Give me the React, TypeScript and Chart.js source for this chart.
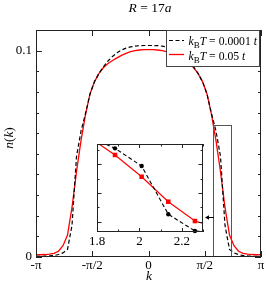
import React, { useEffect, useRef } from 'react';
import { Chart, registerables } from 'chart.js';
Chart.register(...registerables);

const PI = Math.PI;
const FAMILY = "'Liberation Serif', 'Times New Roman', serif";

// lattice momenta k = m*pi/25
const gridIndex = [-25, -24, -23, -22, -21, -20, -19, -18, -17, -16, -15, -14, -13, -12, -11, -10, -9, -8, -7, -6, -5, -4, -3, -2, -1, 0, 1, 2, 3, 4, 5, 6, 7, 8, 9, 10, 11, 12, 13, 14, 15, 16, 17, 18, 19, 20, 21, 22, 23, 24, 25];
const kGrid = gridIndex.map((m) => (m * PI) / 25);

// kBT = 0.0001 t (black dashed)
const nLowT = [0.0003, 0.0003, 0.0004, 0.0005, 0.0007, 0.0012, 0.0020, 0.0037, 0.0153, 0.0487, 0.0610, 0.0695, 0.0790, 0.0850, 0.0890, 0.0922, 0.0950, 0.0972, 0.0990, 0.1003, 0.1012, 0.1018, 0.1022, 0.1024, 0.1025, 0.1025, 0.1025, 0.1024, 0.1022, 0.1018, 0.1012, 0.1003, 0.0990, 0.0972, 0.0950, 0.0922, 0.0890, 0.0850, 0.0790, 0.0695, 0.0610, 0.0487, 0.0153, 0.0037, 0.0020, 0.0012, 0.0007, 0.0005, 0.0004, 0.0003, 0.0003];
// kBT = 0.05 t (red solid)
const nHighT = [0.0011, 0.0011, 0.0012, 0.0014, 0.0018, 0.0028, 0.0055, 0.0106, 0.0240, 0.0413, 0.0564, 0.0690, 0.0790, 0.0850, 0.0890, 0.0918, 0.0938, 0.0952, 0.0965, 0.0977, 0.0987, 0.0995, 0.1000, 0.1003, 0.1005, 0.1005, 0.1005, 0.1003, 0.1000, 0.0995, 0.0987, 0.0977, 0.0965, 0.0952, 0.0938, 0.0918, 0.0890, 0.0850, 0.0790, 0.0690, 0.0564, 0.0413, 0.0240, 0.0106, 0.0055, 0.0028, 0.0018, 0.0014, 0.0012, 0.0011, 0.0011];

const mainXTickValues = [-PI, -PI / 2, 0, PI / 2, PI];
const mainXTickLabels = ['-π', '-π/2', '0', 'π/2', 'π'];
const mainYTickValues = [0, 0.01, 0.02, 0.03, 0.04, 0.05, 0.06, 0.07, 0.08, 0.09, 0.1];
const mainYTickLabels = ['0', '', '', '', '', '', '', '', '', '', '0.1'];
const insetXTickValues = [1.8, 1.9, 2.0, 2.1, 2.2, 2.3];
const insetXTickLabels = ['1.8', '', '2', '', '2.2', ''];
const insetYTickValues = [0.01, 0.02, 0.03, 0.04, 0.05, 0.06];
const insetYTickLong = [true, false, true, false, true, false];
const zoomBoxK = [1.8, 2.3];
const zoomBoxN = [0.0005, 0.064];
const insetArrowN = 0.0134;

type Part = { t: string; it?: boolean; sub?: boolean };
const titleParts: Part[] = [{ t: 'R', it: true }, { t: ' = 17' }, { t: 'a', it: true }];
const legendParts: Part[][] = [
  [{ t: 'k', it: true }, { t: 'B', sub: true }, { t: 'T', it: true }, { t: ' = 0.0001 ' }, { t: 't', it: true }],
  [{ t: 'k', it: true }, { t: 'B', sub: true }, { t: 'T', it: true }, { t: ' = 0.05 ' }, { t: 't', it: true }],
];
const yTitle: Part[] = [{ t: 'n', it: true }, { t: '(' }, { t: 'k', it: true }, { t: ')' }];
const xTitle: Part[] = [{ t: 'k', it: true }];

function drawRich(ctx: CanvasRenderingContext2D, parts: Part[], x: number, y: number, size: number, align: 'left' | 'center') {
  const fontOf = (p: Part) => `${p.it ? 'italic ' : ''}${p.sub ? Math.round(size * 0.75) : size}px ${FAMILY}`;
  let w = 0;
  parts.forEach((p) => {
    ctx.font = fontOf(p);
    w += ctx.measureText(p.t).width;
  });
  let cx = align === 'center' ? x - w / 2 : x;
  ctx.textAlign = 'left';
  ctx.textBaseline = 'alphabetic';
  ctx.fillStyle = '#000';
  parts.forEach((p) => {
    ctx.font = fontOf(p);
    ctx.fillText(p.t, cx, y + (p.sub ? size * 0.28 : 0));
    cx += ctx.measureText(p.t).width;
  });
}

function drawFrameTicks(chart: any, xt: { v: number; len: number }[], yt: { v: number; len: number }[], color: string) {
  const { ctx, chartArea: a, scales } = chart;
  const xs = scales.x;
  const ys = scales.y;
  ctx.save();
  ctx.strokeStyle = color;
  ctx.lineWidth = 1;
  ctx.beginPath();
  xt.forEach(({ v, len }) => {
    const px = Math.round(xs.getPixelForValue(v)) + 0.5;
    ctx.moveTo(px, a.bottom);
    ctx.lineTo(px, a.bottom - len);
    ctx.moveTo(px, a.top);
    ctx.lineTo(px, a.top + len);
  });
  yt.forEach(({ v, len }) => {
    const py = Math.round(ys.getPixelForValue(v)) + 0.5;
    ctx.moveTo(a.left, py);
    ctx.lineTo(a.left + len, py);
    ctx.moveTo(a.right, py);
    ctx.lineTo(a.right - len, py);
  });
  ctx.stroke();
  ctx.strokeRect(Math.round(a.left) + 0.5, Math.round(a.top) + 0.5, Math.round(a.right - a.left) - 1, Math.round(a.bottom - a.top) - 1);
  ctx.restore();
}

const mainDecor = {
  id: 'mainDecor',
  afterDatasetsDraw(chart: any) {
    const { ctx, scales } = chart;
    const xs = scales.x;
    const ys = scales.y;
    ctx.save();
    // zoom window
    const x0 = Math.round(xs.getPixelForValue(zoomBoxK[0])) + 0.5;
    const x1 = Math.round(xs.getPixelForValue(zoomBoxK[1])) + 0.5;
    const y0 = Math.round(ys.getPixelForValue(zoomBoxN[1])) + 0.5;
    const y1 = Math.round(ys.getPixelForValue(zoomBoxN[0])) + 0.5;
    ctx.strokeStyle = '#555';
    ctx.lineWidth = 1;
    ctx.strokeRect(x0, y0, x1 - x0, y1 - y0);
    ctx.restore();

    drawFrameTicks(
      chart,
      mainXTickValues.map((v) => ({ v, len: 6 })),
      mainYTickValues.map((v, i) => ({ v, len: mainYTickLabels[i] ? 6 : 3 })),
      '#222'
    );

    // legend
    ctx.save();
    ctx.fillStyle = '#fff';
    ctx.fillRect(166, 30, 93, 37);
    ctx.strokeStyle = '#444';
    ctx.lineWidth = 1;
    ctx.strokeRect(166.5, 30.5, 93, 36);
    chart.data.datasets.forEach((ds: any, i: number) => {
      const yy = 40.5 + i * 14;
      ctx.beginPath();
      ctx.strokeStyle = ds.borderColor;
      ctx.lineWidth = ds.borderWidth;
      ctx.setLineDash(ds.borderDash || []);
      ctx.moveTo(169, yy);
      ctx.lineTo(184, yy);
      ctx.stroke();
      ctx.setLineDash([]);
      drawRich(ctx, legendParts[i], 188.5, 45 + i * 14.5, 11.7, 'left');
    });
    ctx.restore();

    // title and axis titles
    ctx.save();
    drawRich(ctx, titleParts, 150, 12, 13.5, 'center');
    drawRich(ctx, xTitle, 149, 280, 13.5, 'center');
    ctx.translate(13, 138);
    ctx.rotate(-PI / 2);
    drawRich(ctx, yTitle, 0, 0, 13.5, 'center');
    ctx.restore();
  },
};

const insetDecor = {
  id: 'insetDecor',
  beforeDatasetsDraw(chart: any) {
    const { ctx, chartArea: a } = chart;
    ctx.save();
    ctx.fillStyle = '#fff';
    ctx.fillRect(a.left, a.top, a.right - a.left, a.bottom - a.top);
    ctx.restore();
  },
  afterDatasetsDraw(chart: any) {
    const { ctx, chartArea: a, scales } = chart;
    drawFrameTicks(
      chart,
      insetXTickValues.map((v, i) => ({ v, len: insetXTickLabels[i] ? 4 : 2.5 })),
      insetYTickValues.map((v, i) => ({ v, len: insetYTickLong[i] ? 4.5 : 2.5 })),
      '#222'
    );
    const py = Math.round(scales.y.getPixelForValue(insetArrowN)) + 0.5;
    ctx.save();
    ctx.strokeStyle = '#000';
    ctx.fillStyle = '#000';
    ctx.lineWidth = 1;
    ctx.beginPath();
    ctx.moveTo(a.right + 3, py);
    ctx.lineTo(a.right + 11, py);
    ctx.stroke();
    ctx.beginPath();
    ctx.moveTo(a.right + 2, py);
    ctx.lineTo(a.right + 6, py - 2.2);
    ctx.lineTo(a.right + 6, py + 2.2);
    ctx.closePath();
    ctx.fill();
    ctx.restore();
  },
};

const tickFont = { family: FAMILY, size: 13 };

export default function App() {
  const mainRef = useRef<HTMLCanvasElement>(null);
  const insetRef = useRef<HTMLCanvasElement>(null);

  useEffect(() => {
    const lowData = kGrid.map((k, i) => ({ x: k, y: nLowT[i] }));
    const highData = kGrid.map((k, i) => ({ x: k, y: nHighT[i] }));

    const main = new Chart(mainRef.current as HTMLCanvasElement, {
      type: 'line',
      data: {
        datasets: [
          { data: lowData, borderColor: '#000', borderWidth: 1.2, borderDash: [4, 2.5], pointRadius: 0, fill: false, tension: 0 },
          { data: highData, borderColor: '#ff0000', borderWidth: 1.3, pointRadius: 0, fill: false, tension: 0 },
        ],
      } as any,
      options: {
        responsive: false,
        animation: false,
        events: [],
        layout: { padding: { top: 30, right: 5, left: 0, bottom: 0 } },
        plugins: { legend: { display: false }, tooltip: { enabled: false }, title: { display: false } },
        scales: {
          x: {
            type: 'linear',
            min: -PI,
            max: PI,
            afterBuildTicks: (s: any) => {
              s.ticks = mainXTickValues.map((v) => ({ value: v }));
            },
            afterFit: (s: any) => {
              s.height = 28;
            },
            ticks: { callback: (_v: any, i: number) => mainXTickLabels[i], font: tickFont, color: '#000', padding: 1, maxRotation: 0, autoSkip: false },
            grid: { display: false, drawTicks: false },
            border: { display: false },
          },
          y: {
            type: 'linear',
            min: 0,
            max: 0.11,
            afterBuildTicks: (s: any) => {
              s.ticks = mainYTickValues.map((v) => ({ value: v }));
            },
            afterFit: (s: any) => {
              s.width = 36;
            },
            ticks: { callback: (_v: any, i: number) => mainYTickLabels[i], font: tickFont, color: '#000', padding: 4, autoSkip: false },
            grid: { display: false, drawTicks: false },
            border: { display: false },
          },
        },
      } as any,
      plugins: [mainDecor],
    });

    const inset = new Chart(insetRef.current as HTMLCanvasElement, {
      type: 'line',
      data: {
        datasets: [
          { data: lowData, borderColor: '#000', borderWidth: 1.1, borderDash: [4, 2.5], pointRadius: 2.2, pointBackgroundColor: '#000', pointBorderWidth: 0, pointStyle: 'circle', fill: false, tension: 0, clip: { left: 0, top: 0, right: 0, bottom: 3 } },
          { data: highData, borderColor: '#ff0000', borderWidth: 1.2, pointRadius: 3.2, pointBackgroundColor: '#ff0000', pointBorderWidth: 0, pointStyle: 'rect', fill: false, tension: 0, clip: { left: 0, top: 0, right: 0, bottom: 3 } },
        ],
      } as any,
      options: {
        responsive: false,
        animation: false,
        events: [],
        layout: { padding: { top: 9, right: 17, left: 17, bottom: 0 } },
        plugins: { legend: { display: false }, tooltip: { enabled: false }, title: { display: false } },
        scales: {
          x: {
            type: 'linear',
            min: 1.8,
            max: 2.3,
            afterBuildTicks: (s: any) => {
              s.ticks = insetXTickValues.map((v) => ({ value: v }));
            },
            afterFit: (s: any) => {
              s.height = 23;
            },
            ticks: { callback: (_v: any, i: number) => insetXTickLabels[i], font: tickFont, color: '#000', padding: 2, maxRotation: 0, autoSkip: false },
            grid: { display: false, drawTicks: false },
            border: { display: false },
          },
          y: {
            type: 'linear',
            display: false,
            min: 0.003,
            max: 0.064,
          },
        },
      } as any,
      plugins: [insetDecor],
    });

    return () => {
      main.destroy();
      inset.destroy();
    };
  }, []);

  return (
    <div style={{ position: 'absolute', left: 0, top: 0, width: 266, height: 285, background: '#fff' }}>
      <canvas ref={mainRef} width={266} height={285} style={{ position: 'absolute', left: 0, top: 0, display: 'block' }} />
      <canvas ref={insetRef} width={140} height={120} style={{ position: 'absolute', left: 80, top: 135, display: 'block' }} />
    </div>
  );
}
